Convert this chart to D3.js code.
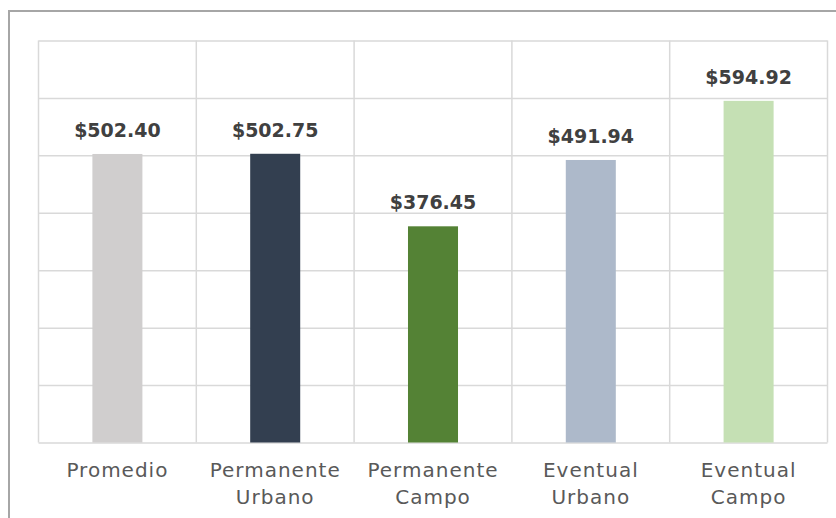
<!DOCTYPE html>
<html>
<head>
<meta charset="utf-8">
<script src="https://cdn.jsdelivr.net/npm/d3@7"></script>
<style>
  html, body { margin: 0; padding: 0; background: #fff; }
  svg { display: block; }
</style>
</head>
<body>
<svg id="chart" width="836" height="518"></svg>
<script>
// Salario promedio por tipo de trabajador
const categories = ["Promedio", "Permanente Urbano", "Permanente Campo", "Eventual Urbano", "Eventual Campo"];
const values = [502.40, 502.75, 376.45, 491.94, 594.92];
const colors = ["#d0cece", "#333f50", "#548235", "#adb9ca", "#c5e0b4"];
const yTicks = [0, 100, 200, 300, 400, 500, 600, 700];

const width = 836, height = 518;
const plot = { left: 38.5, right: 827.5, top: 40.5, bottom: 442.5 };

const svg = d3.select("#chart");

// outer frame
svg.append("rect")
  .attr("x", 9).attr("y", 11)
  .attr("width", 900).attr("height", 600)
  .attr("fill", "none")
  .attr("stroke", "#a6a6a6")
  .attr("stroke-width", 2);

const x = d3.scaleBand()
  .domain(categories)
  .range([plot.left, plot.right])
  .padding(0);

const y = d3.scaleLinear()
  .domain([0, 700])
  .range([plot.bottom, plot.top]);

const gridColor = "#d9d9d9";

// horizontal gridlines
const yAxis = svg.append("g")
  .attr("transform", `translate(${plot.left},0)`)
  .call(d3.axisLeft(y).tickValues(yTicks).tickSize(-(plot.right - plot.left)).tickFormat(""));
yAxis.select(".domain").remove();
yAxis.selectAll(".tick line").attr("stroke", gridColor).attr("stroke-width", 1.5);

// vertical category separators
const bounds = categories.map(c => x(c)).concat([plot.right]);
svg.append("g").selectAll("line")
  .data(bounds)
  .join("line")
  .attr("x1", d => d).attr("x2", d => d)
  .attr("y1", plot.top).attr("y2", plot.bottom)
  .attr("stroke", gridColor)
  .attr("stroke-width", 1.5);

// bars
const barW = x.bandwidth() * 0.317;
const data = categories.map((c, i) => ({ c, v: values[i], color: colors[i] }));

svg.append("g").selectAll("rect")
  .data(data)
  .join("rect")
  .attr("x", d => x(d.c) + x.bandwidth() / 2 - barW / 2)
  .attr("y", d => y(d.v))
  .attr("width", barW)
  .attr("height", d => y(0) - y(d.v))
  .attr("fill", d => d.color);

// value labels
svg.append("g").selectAll("text")
  .data(data)
  .join("text")
  .attr("x", d => x(d.c) + x.bandwidth() / 2)
  .attr("y", d => y(d.v) - 17)
  .attr("text-anchor", "middle")
  .attr("font-family", "'DejaVu Sans', sans-serif")
  .attr("font-weight", "bold")
  .attr("font-size", 19)
  .attr("fill", "#404040")
  .text(d => "$" + d3.format(",.2f")(d.v));

// category axis
const xAxis = svg.append("g")
  .attr("transform", `translate(0,${plot.bottom})`)
  .call(d3.axisBottom(x).tickSize(0).tickFormat(""));
xAxis.select(".domain").remove();

xAxis.selectAll(".tick").append("text")
  .attr("text-anchor", "middle")
  .attr("font-family", "'DejaVu Sans', sans-serif")
  .attr("font-size", 20)
  .attr("letter-spacing", 1)
  .attr("fill", "#595959")
  .each(function(d) {
    const words = d.split(" ");
    const t = d3.select(this);
    words.forEach((w, i) => {
      t.append("tspan")
        .attr("x", 0)
        .attr("y", 34 + i * 27.5)
        .text(w);
    });
  });
</script>
</body>
</html>
